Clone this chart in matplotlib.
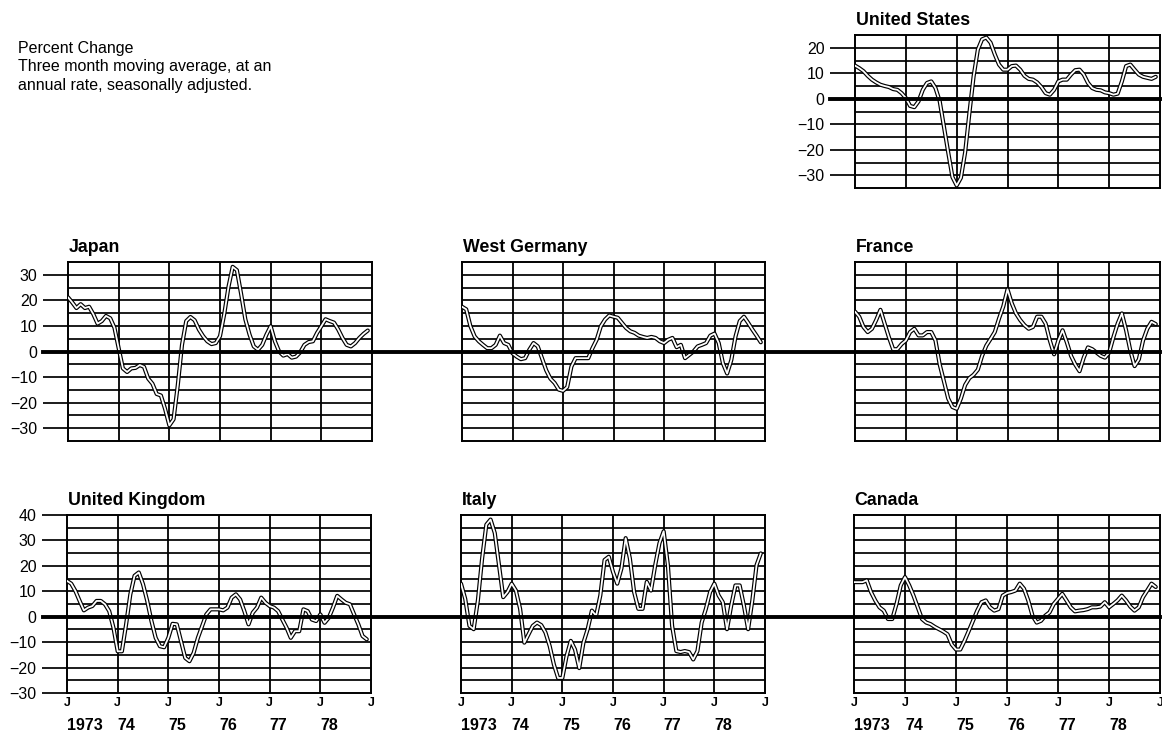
import numpy as np
import matplotlib
matplotlib.use("Agg")
import matplotlib.pyplot as plt
from matplotlib.lines import Line2D
from matplotlib.transforms import blended_transform_factory

plt.rcParams['font.family'] = ['Liberation Sans', 'DejaVu Sans']

# months since Jan 1973, one value per month through Dec 1978
months = np.arange(72)
year_labels = ["1973", "74", "75", "76", "77", "78"]

united_states = [13, 12, 10.8, 9, 7.5, 6.4, 5.5, 5, 4.6, 3.8, 3.5, 2.2,
                 0.3, -2.8, -3.3, -1, 3.5, 6.2, 6.8, 4.2, -1, -11, -21, -30.7,
                 -34, -31, -21, -5.7, 8.8, 19.3, 23.3, 24, 22, 17.4, 13.4, 11.4,
                 11.4, 12.8, 13, 11.4, 9, 7.8, 7.5, 6.4, 4.6, 2.2, 1.6, 3.5,
                 6.8, 7.5, 7.5, 9.5, 11.2, 11.4, 9.5, 6.2, 4.2, 3.5, 3.3, 2.5,
                 2.2, 1.6, 2, 6.8, 12.8, 13.4, 11.4, 9.5, 8.6, 8.2, 7.8, 8.6]

japan = [21.2, 19.2, 17, 18.5, 17, 17.5, 14.6, 10.9, 11.9, 13.9, 13, 9.3,
         1.3, -6.6, -8, -6.6, -6.4, -5.3, -6, -10.6, -12.6, -16.6, -17.2, -22.5,
         -28.9, -26.5, -13.2, 2.6, 11.9, 13.5, 12.2, 8.6, 6, 4, 2.9, 3.3,
         6, 14.6, 25.2, 33.1, 31.8, 22.5, 12.6, 6.6, 2, 0.7, 2.6, 6.6,
         9.9, 4, 0, -1.6, -1, -2.4, -2, -0.3, 2.6, 3.7, 4, 7.3,
         9.9, 12.6, 11.9, 11.3, 8.6, 5.3, 2.6, 2, 3.3, 5.3, 6.9, 8.2]

west_germany = [17.5, 16.5, 9.9, 5.9, 4, 2.6, 1.3, 1.3, 2.6, 6.2, 3.3, 2.6,
                -0.7, -2, -3, -2.6, 0.7, 3.3, 2, -2.6, -7.3, -10.6, -12.3, -14.9,
                -15.4, -13.9, -5.9, -2.6, -2.6, -2.6, -2.6, 1.3, 4.6, 9.9, 12.5, 14.1,
                13.6, 13.2, 11.2, 9.2, 7.9, 7.3, 6.2, 5.7, 5.3, 5.7, 5.3, 4,
                3.3, 4.6, 5.3, 1.7, 2.6, -2.6, -1.3, 0, 2, 2.6, 3.3, 6.2,
                7, 3.3, -4.6, -8.6, -3.3, 5.9, 11.9, 13.6, 11.2, 8.6, 6.2, 3.6]

france = [15.6, 13.6, 9.6, 7.6, 8.9, 12.3, 16.3, 10.9, 5.6, 0.9, 0.9, 2.9,
          4.3, 7.6, 8.9, 6.3, 6.3, 7.6, 7.6, 4.3, -5.1, -11.7, -18.4, -21.7,
          -22.4, -18.4, -13.1, -10.4, -9.1, -7.1, -1.7, 2.3, 4.9, 7.6, 12.9, 17.6,
          24.3, 18.9, 14.9, 12.3, 10.3, 8.9, 9.6, 13.6, 13.6, 10.9, 4.3, -1.1,
          4.3, 8.3, 3.6, -1.7, -5.1, -7.7, -2.4, 1.6, 0.9, -0.4, -1.7, -2.4,
          -0.4, 5.6, 10.9, 14.9, 8.3, 0.3, -5.7, -3.1, 4.3, 8.9, 11.6, 10.7]

united_kingdom = [14.1, 13, 10.1, 6.2, 2.5, 3.6, 4.2, 6.2, 6.2, 4.9, 2.2, -4.3,
                  -13.6, -13.6, -3, 8.8, 16.1, 17.4, 12.8, 6.2, -1.7, -8.3, -11.6, -12,
                  -8.3, -2.8, -3, -9.6, -16.2, -17.5, -14.2, -8.3, -3.7, 0.9, 2.9, 2.9,
                  2.9, 2.5, 3.6, 7.5, 8.8, 6.8, 2.2, -3, 1.6, 3.6, 7.5, 5.5,
                  4.2, 3.6, 2.2, -1.1, -4.3, -8.3, -5.7, -5.7, 2.9, 2.2, -1.1, -1.7,
                  0.9, -2.4, -0.4, 3.6, 8.2, 6.8, 5.5, 4.9, 0.9, -3, -7.6, -8.9]

italy = [13, 7, -3.6, -4.9, 6.4, 22.9, 36.2, 38.2, 32.9, 20.3, 7.7, 9.7,
         13, 10.3, 3.1, -10.2, -6.9, -3.6, -2.3, -3.3, -6.2, -11.5, -18.8, -24.1,
         -24.1, -15.5, -9.5, -12.9, -20.2, -10.2, -4.9, 2.4, 0.4, 8.4, 22.3, 23.6,
         17.6, 13, 19, 30.9, 22.9, 9.7, 3.1, 3.1, 13.7, 10.3, 20.3, 28.9,
         33.6, 20.3, -3.6, -13.5, -13.9, -13.5, -13.9, -16.8, -13.5, -2.3, 3.1, 9.7,
         13, 8.4, 5.7, -4.9, 4.4, 12.3, 12.3, 4.4, -4.9, 6.4, 20.3, 24.9]

canada = [13.6, 13.6, 13.6, 14.3, 9.7, 6.4, 3.7, 2.4, -0.9, -0.9, 5, 12.3,
          15.6, 12.3, 8.3, 3.7, -0.9, -2.3, -2.9, -4, -4.9, -5.8, -6.9, -10.9,
          -12.9, -12.9, -9.5, -5.6, -1.6, 2.4, 5.7, 6.4, 3.7, 2.4, 3, 8.3,
          9.3, 9.7, 10.3, 13, 11, 6.4, 0.4, -2.3, -1.6, 0.4, 1.7, 5,
          7, 9, 6.4, 3.7, 2.1, 2.4, 2.6, 3, 3.7, 3.7, 4, 5.7,
          3.7, 5, 6.4, 8.3, 6.4, 4, 2.4, 3.7, 7.7, 10.3, 13, 11.7]

W, H = 1162, 736


def px_rect(left, top, right, bottom):
    # pixel box -> figure fraction
    return [left / W, 1 - bottom / H, (right - left) / W, (bottom - top) / H]


def draw_panel(fig, rect, title, values, ylim, yticks=False, xlabels=False):
    ax = fig.add_axes(px_rect(*rect))
    ax.set_xlim(0, 72)
    ax.set_ylim(*ylim)

    # the ruled grid: every 5 points across, every year down
    for y in np.arange(ylim[0] + 5, ylim[1], 5):
        ax.axhline(y, color="black", lw=1.25, zorder=1)
    for x in range(12, 72, 12):
        ax.axvline(x, color="black", lw=1.3, zorder=1)
    for s in ax.spines.values():
        s.set_linewidth(1.4)

    # double-line curve: black stroke with white core
    ax.plot(months, values, color="black", lw=3.0, zorder=3,
            solid_joinstyle="round", solid_capstyle="round")
    ax.plot(months, values, color="white", lw=1.3, zorder=4,
            solid_joinstyle="round", solid_capstyle="round")

    if yticks:
        ax.set_yticks(np.arange(ylim[0] + (5 if ylim[0] % 10 else 0), ylim[1] + 1, 10))
        ax.tick_params(axis="y", length=18, width=1.25, pad=4, labelsize=11.5)
    else:
        ax.set_yticks([])

    if xlabels:
        ax.set_xticks(range(0, 73, 12))
        ax.set_xticklabels(["J"] * 7)
        ax.tick_params(axis="x", length=0, pad=3, labelsize=9)
        for lab in ax.get_xticklabels():
            lab.set_fontweight("bold")
        for i, lab in enumerate(year_labels):
            ax.annotate(lab, xy=(12 * i, 0), xycoords=("data", "axes fraction"),
                        xytext=(0, -27), textcoords="offset points",
                        ha="left", va="baseline", fontsize=11.5, fontweight="bold")
    else:
        ax.set_xticks([])

    ax.annotate(title, xy=(0, 1), xycoords="axes fraction", xytext=(0.5, 7),
                textcoords="offset points", ha="left", va="baseline",
                fontsize=12.8, fontweight="bold")
    return ax


def zero_line(fig, ax, x0, x1):
    # heavy zero line running across the whole row
    trans = blended_transform_factory(fig.transFigure, ax.transData)
    line = Line2D([x0 / W, x1 / W], [0, 0], transform=trans, color="black",
                  lw=2.8, zorder=5, clip_on=False)
    fig.add_artist(line)


fig = plt.figure(figsize=(W / 100, H / 100), dpi=100)

ax_us = draw_panel(fig, (855, 35, 1160, 188), "United States", united_states, (-35, 25), yticks=True)

ax_jp = draw_panel(fig, (68, 262, 372, 441), "Japan", japan, (-35, 35), yticks=True)
draw_panel(fig, (462, 262, 765, 441), "West Germany", west_germany, (-35, 35))
draw_panel(fig, (855, 262, 1160, 441), "France", france, (-35, 35))

ax_uk = draw_panel(fig, (67, 515, 371, 693), "United Kingdom", united_kingdom, (-30, 40),
                   yticks=True, xlabels=True)
draw_panel(fig, (461, 515, 765, 693), "Italy", italy, (-30, 40), xlabels=True)
draw_panel(fig, (854, 515, 1160, 693), "Canada", canada, (-30, 40), xlabels=True)

zero_line(fig, ax_us, 830, 1160)
zero_line(fig, ax_jp, 43, 1160)
zero_line(fig, ax_uk, 43, 1160)

# note in the upper left
notes = ["Percent Change", "Three month moving average, at an",
         "annual rate, seasonally adjusted."]
for i, line in enumerate(notes):
    fig.text(18 / W, 1 - (53 + 18.5 * i) / H, line, fontsize=11.5, va="baseline")

plt.savefig("out.png", dpi=100)
